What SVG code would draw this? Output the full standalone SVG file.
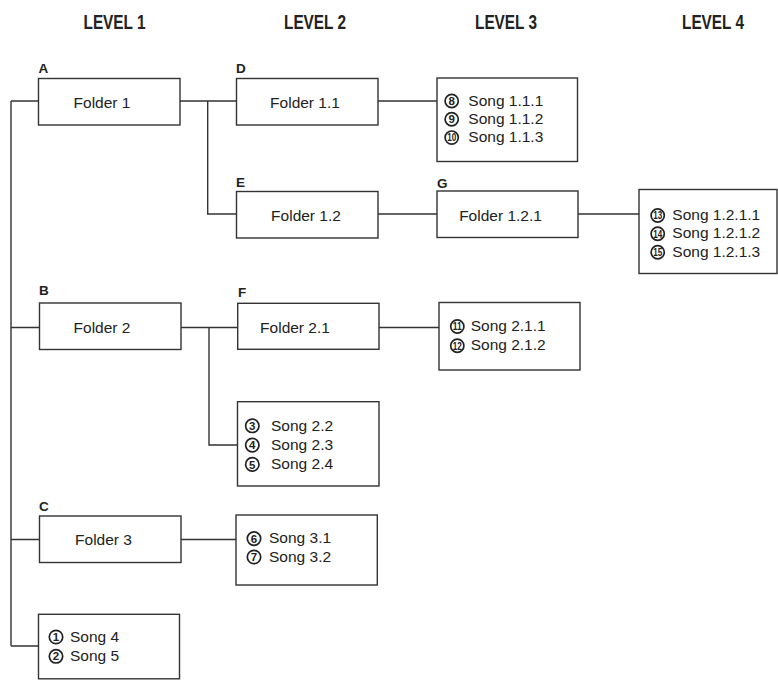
<svg xmlns="http://www.w3.org/2000/svg" width="778" height="680" viewBox="0 0 778 680">
<style>
.bg{fill:#fff}
.box{fill:#fff;stroke:#333;stroke-width:1.4}
.ln{fill:none;stroke:#333;stroke-width:1.4}
.hd{font-family:"Liberation Sans",Arial,sans-serif;font-weight:bold;font-size:20px;fill:#222;text-anchor:middle}
.lb{font-family:"Liberation Sans",Arial,sans-serif;font-weight:bold;font-size:13.5px;fill:#222}
.ft{font-family:"Liberation Sans",Arial,sans-serif;font-size:15.5px;fill:#222;text-anchor:middle}
.st{font-family:"Liberation Sans",Arial,sans-serif;font-size:15.5px;fill:#222}
.cc{fill:none;stroke:#222;stroke-width:1.7}
.cn{font-family:"Liberation Sans",Arial,sans-serif;font-weight:bold;font-size:11.5px;fill:#222;text-anchor:middle}
.c2{font-size:10.5px}
</style>
<rect class="bg" x="0" y="0" width="778" height="680"/>
<g id="headers">
<text class="hd" x="114.5" y="29" textLength="62" lengthAdjust="spacingAndGlyphs">LEVEL 1</text>
<text class="hd" x="315" y="29" textLength="62" lengthAdjust="spacingAndGlyphs">LEVEL 2</text>
<text class="hd" x="506" y="29" textLength="62" lengthAdjust="spacingAndGlyphs">LEVEL 3</text>
<text class="hd" x="713" y="29" textLength="62" lengthAdjust="spacingAndGlyphs">LEVEL 4</text>
</g>
<g id="connectors">
<path class="ln" d="M11 101V646M11 101H38.5M11 327.5H39.5M11 539.5H39.5M11 646H38.5"/>
<path class="ln" d="M180 101H236.5M378 101H437M207.7 101V214H236.5"/>
<path class="ln" d="M378 214H437M578 214H639"/>
<path class="ln" d="M181 327.5H237.7M379 327.5H439M209 327.5V445H237.5"/>
<path class="ln" d="M181 539.5H236"/>
</g>
<g id="folder1">
<text class="lb" x="38.5" y="73">A</text>
<rect class="box" x="38.5" y="78.5" width="141.5" height="46.5"/>
<text class="ft" x="102" y="108">Folder 1</text>
</g>
<g id="folder1_1">
<text class="lb" x="236" y="73">D</text>
<rect class="box" x="236.5" y="78.5" width="141.5" height="46.5"/>
<text class="ft" x="305" y="108">Folder 1.1</text>
</g>
<g id="songs1_1">
<rect class="box" x="437" y="78" width="140.5" height="83.5"/>
<circle class="cc" cx="451.7" cy="101" r="6.6"/><text class="cn" x="451.7" y="105.1">8</text>
<text class="st" x="468.3" y="105.7">Song 1.1.1</text>
<circle class="cc" cx="451.7" cy="119.3" r="6.6"/><text class="cn" x="451.7" y="123.4">9</text>
<text class="st" x="468.3" y="124">Song 1.1.2</text>
<circle class="cc" cx="451.7" cy="137.6" r="6.6"/><text class="cn c2" x="451.7" y="141.4" textLength="9" lengthAdjust="spacingAndGlyphs">10</text>
<text class="st" x="468.3" y="142.3">Song 1.1.3</text>
</g>
<g id="folder1_2">
<text class="lb" x="236" y="187">E</text>
<rect class="box" x="236.5" y="191.5" width="141.5" height="46.5"/>
<text class="ft" x="306" y="221">Folder 1.2</text>
</g>
<g id="folder1_2_1">
<text class="lb" x="437" y="187.5">G</text>
<rect class="box" x="437" y="191" width="141" height="46.5"/>
<text class="ft" x="500.5" y="220.5">Folder 1.2.1</text>
</g>
<g id="songs1_2_1">
<rect class="box" x="639" y="189.5" width="138" height="84"/>
<circle class="cc" cx="657.7" cy="215.5" r="6.6"/><text class="cn c2" x="657.7" y="219.3" textLength="9" lengthAdjust="spacingAndGlyphs">13</text>
<text class="st" x="672.3" y="220">Song 1.2.1.1</text>
<circle class="cc" cx="657.7" cy="233.8" r="6.6"/><text class="cn c2" x="657.7" y="237.6" textLength="9" lengthAdjust="spacingAndGlyphs">14</text>
<text class="st" x="672.3" y="238.3">Song 1.2.1.2</text>
<circle class="cc" cx="657.7" cy="252.2" r="6.6"/><text class="cn c2" x="657.7" y="256" textLength="9" lengthAdjust="spacingAndGlyphs">15</text>
<text class="st" x="672.3" y="256.7">Song 1.2.1.3</text>
</g>
<g id="folder2">
<text class="lb" x="39" y="295">B</text>
<rect class="box" x="39.5" y="303" width="141.5" height="46.5"/>
<text class="ft" x="102" y="332.5">Folder 2</text>
</g>
<g id="folder2_1">
<text class="lb" x="238" y="297">F</text>
<rect class="box" x="237.7" y="303.3" width="141.3" height="46"/>
<text class="ft" x="295" y="333">Folder 2.1</text>
</g>
<g id="songs2_1">
<rect class="box" x="439" y="302.5" width="141" height="67.5"/>
<circle class="cc" cx="457.3" cy="326.5" r="6.6"/><text class="cn c2" x="457.3" y="330.3" textLength="9" lengthAdjust="spacingAndGlyphs">11</text>
<text class="st" x="470.7" y="331">Song 2.1.1</text>
<circle class="cc" cx="457.3" cy="345.7" r="6.6"/><text class="cn c2" x="457.3" y="349.5" textLength="9" lengthAdjust="spacingAndGlyphs">12</text>
<text class="st" x="470.7" y="350.2">Song 2.1.2</text>
</g>
<g id="songs2">
<rect class="box" x="237.5" y="401.7" width="141.5" height="84.3"/>
<circle class="cc" cx="252.3" cy="425.8" r="6.7"/><text class="cn" x="252.3" y="429.9">3</text>
<text class="st" x="271" y="430.7">Song 2.2</text>
<circle class="cc" cx="252.3" cy="445.1" r="6.7"/><text class="cn" x="252.3" y="449.2">4</text>
<text class="st" x="271" y="450">Song 2.3</text>
<circle class="cc" cx="252.3" cy="464.4" r="6.7"/><text class="cn" x="252.3" y="468.5">5</text>
<text class="st" x="271" y="469.3">Song 2.4</text>
</g>
<g id="folder3">
<text class="lb" x="39" y="511">C</text>
<rect class="box" x="39.5" y="516" width="141.5" height="46.5"/>
<text class="ft" x="103.5" y="545">Folder 3</text>
</g>
<g id="songs3">
<rect class="box" x="236" y="515" width="141.3" height="70"/>
<circle class="cc" cx="254" cy="538.6" r="6.7"/><text class="cn" x="254" y="542.7">6</text>
<text class="st" x="269" y="543.3">Song 3.1</text>
<circle class="cc" cx="254" cy="557" r="6.7"/><text class="cn" x="254" y="561.1">7</text>
<text class="st" x="269" y="561.7">Song 3.2</text>
</g>
<g id="songs_root">
<rect class="box" x="38.5" y="614.3" width="141" height="64.5"/>
<circle class="cc" cx="56" cy="637" r="6.7"/><text class="cn" x="56" y="641.1">1</text>
<text class="st" x="70" y="641.7">Song 4</text>
<circle class="cc" cx="56" cy="656.3" r="6.7"/><text class="cn" x="56" y="660.4">2</text>
<text class="st" x="70" y="661">Song 5</text>
</g>
</svg>
